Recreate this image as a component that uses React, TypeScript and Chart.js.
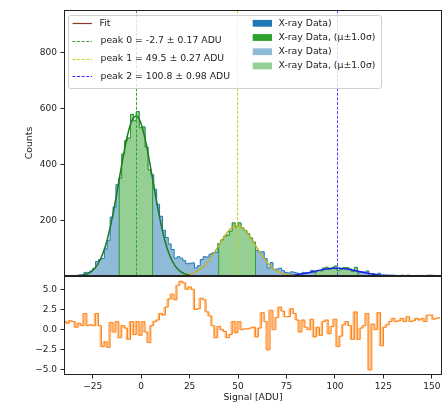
import React, { useEffect, useRef } from 'react';
import { Chart, registerables } from 'chart.js';

Chart.register(...registerables);

// ---------- data ----------
const BIN_START = -40;
const BIN_WIDTH = 1.5;

const counts = [
  1, 1, 2, 2, 2, 4, 5, 13, 11, 18,
  27, 52, 59, 63, 97, 128, 211, 247, 327, 351,
  437, 485, 494, 579, 556, 589, 531, 534, 462, 380,
  363, 311, 257, 214, 164, 138, 115, 95, 64, 69,
  64, 55, 44, 46, 47, 29, 37, 59, 69, 68,
  78, 83, 85, 116, 129, 142, 146, 160, 190, 175,
  190, 172, 163, 151, 136, 121, 92, 86, 87, 62,
  29, 48, 24, 25, 28, 19, 13, 11, 15, 13,
  10, 6, 13, 11, 12, 20, 13, 20, 18, 28,
  31, 24, 29, 35, 19, 23, 29, 30, 25, 16,
  31, 12, 15, 14, 18, 2, 8, 5, 10, 1,
  3, 3, 3, 3, 2, 2, 3, 1, 3, 1,
  1, 2, 2, 2, 1, 3, 3, 2, 2, 2,
];

const residuals = [
  1.0, 0.8, 1.1, 1.0, 0.3, 0.8, 0.5, 2.0, 0.5, 0.6,
  0.5, 2.0, 0.5, -2.1, -1.5, -2.2, 0.9, -0.3, 1.0, -1.0,
  0.5, 0.2, -1.2, 1.0, -0.6, 1.0, -0.7, 1.0, -0.3, -1.6,
  0.5, 1.0, 1.2, 2.0, 1.8, 2.8, 3.8, 4.4, 3.7, 5.5,
  6.0, 5.8, 5.0, 5.3, 5.0, 2.5, 2.6, 3.9, 3.7, 2.2,
  1.7, 0.5, -1.0, 0.4, 0.0, -0.2, -1.0, -0.6, 1.0, -0.4,
  1.0, 0.0, 0.1, 0.1, 0.2, 0.3, -0.9, 0.2, 2.1, 1.0,
  -2.5, 2.4, 0.0, 1.5, 2.8, 2.3, 1.6, 1.6, 2.6, 2.0,
  1.2, -0.3, 1.2, 0.3, 0.0, 1.3, -0.9, 0.3, -0.7, 1.0,
  1.2, -0.5, 0.4, 1.3, -2.1, -0.8, 0.6, 1.0, 0.5, -1.2,
  2.2, -1.2, 0.2, 0.5, 2.0, -5.0, 0.7, 0.0, 2.1, -2.0,
  0.3, 0.6, 1.0, 1.4, 1.0, 1.1, 1.4, 1.0, 1.6, 1.0,
  1.1, 1.4, 1.2, 1.4, 1.0, 1.8, 1.8, 1.3, 1.4, 1.5,
];

const peakMeans = [-2.7, 49.5, 100.8];
const peakSigmas = [8.6, 9.5, 11.0];
const peakLabels = [
  'peak 0 = -2.7 ± 0.17 ADU',
  'peak 1 = 49.5 ± 0.27 ADU',
  'peak 2 = 100.8 ± 0.98 ADU',
];

const FIT_STEP = 2.5;
const fit0Start = -30;
const fit0 = [3.7, 8.9, 19.9, 40.5, 75.8, 130, 206, 299, 400, 490, 553, 573, 545, 477, 384, 284, 193, 120, 69, 36, 17.6, 7.8, 3.2];
const fit1Start = 20;
const fit1 = [1.5, 3.2, 6.5, 12.3, 21.9, 36.3, 56.1, 81, 109, 137, 161, 176, 180, 171, 152, 126, 98, 70.6, 47.6, 29.9, 17.5, 9.6, 4.9, 2.3, 1.0];
const fit2Start = 70;
const fit2 = [0.55, 1.0, 1.8, 3.0, 4.7, 7.0, 10.0, 13.5, 17.3, 21.1, 24.4, 26.8, 27.9, 27.7, 26.0, 23.3, 19.7, 15.9, 12.2, 8.9, 6.1, 4.0, 2.5, 1.5, 0.8];

const countTicks = [200, 400, 600, 800];
const residualTicks = [-5, -2.5, 0, 2.5, 5];
const signalTicks = [-25, 0, 25, 50, 75, 100, 125, 150];

const lineLegendLabels = ['Fit', ...peakLabels];
const patchLegendLabels = ['X-ray Data)', 'X-ray Data, (μ±1.0σ)', 'X-ray Data)', 'X-ray Data, (μ±1.0σ)'];

// ---------- styles ----------
const FONT = '"DejaVu Sans", sans-serif';
const TEXT = '#222222';
const X_MIN = -39.8;
const X_MAX = 155.2;
const fitColors = ['#1c7c1c', '#c2b232', '#1f1fe6'];
const vlineColors = ['#2fa52f', '#d2cc22', '#4848ff'];
const legendLineColors = ['#8b3a2a', '#2fa52f', '#d8d020', '#3030ff'];
const patchColors = ['#1f77b4', '#2ca02c', 'rgba(31,119,180,0.5)', 'rgba(44,160,44,0.5)'];

const fmtMinus = (s: string) => s.replace('-', '\u2212');

function histPoints() {
  const pts = counts.map((c, i) => ({ x: BIN_START + i * BIN_WIDTH, y: c }));
  pts.push({ x: BIN_START + counts.length * BIN_WIDTH, y: counts[counts.length - 1] });
  return pts;
}

function regionPoints(lo: number, hi: number) {
  const idx = (x: number) => Math.min(counts.length - 1, Math.max(0, Math.floor((x - BIN_START) / BIN_WIDTH)));
  const pts: { x: number; y: number }[] = [];
  pts.push({ x: lo, y: 0 });
  pts.push({ x: lo, y: counts[idx(lo)] });
  for (let i = idx(lo) + 1; i <= idx(hi); i++) {
    pts.push({ x: BIN_START + i * BIN_WIDTH, y: counts[i] });
  }
  pts.push({ x: hi, y: counts[idx(hi)] });
  pts.push({ x: hi, y: 0 });
  return pts;
}

function fitPoints(start: number, vals: number[]) {
  return vals.map((v, i) => ({ x: start + i * FIT_STEP, y: v }));
}

const noPadV = (s: any) => { s.width = 64; s.paddingTop = 0; s.paddingBottom = 0; };

const framePlugin = {
  id: 'frame',
  afterDraw(chart: any) {
    const { ctx, chartArea } = chart;
    ctx.save();
    ctx.strokeStyle = '#222';
    ctx.lineWidth = 1;
    const l = Math.round(chartArea.left) + 0.5;
    const t = Math.round(chartArea.top) + 0.5;
    const r = Math.round(chartArea.right) - 0.5;
    const b = Math.round(chartArea.bottom) - 0.5;
    ctx.strokeRect(l, t, r - l, b - t);
    ctx.restore();
  },
};

const vlinePlugin = {
  id: 'vlines',
  afterDatasetsDraw(chart: any) {
    const { ctx, chartArea, scales } = chart;
    ctx.save();
    ctx.lineWidth = 1;
    ctx.setLineDash([3, 1.6]);
    peakMeans.forEach((m, i) => {
      const x = Math.round(scales.x.getPixelForValue(m)) + 0.5;
      ctx.strokeStyle = vlineColors[i];
      ctx.beginPath();
      ctx.moveTo(x, chartArea.top);
      ctx.lineTo(x, chartArea.bottom);
      ctx.stroke();
    });
    ctx.restore();
  },
};

const legendPlugin = {
  id: 'customLegend',
  afterDraw(chart: any) {
    const { ctx } = chart;
    ctx.save();
    const bx = 68.5, by = 15.5, bw = 313, bh = 73, rad = 2.5;
    ctx.beginPath();
    ctx.moveTo(bx + rad, by);
    ctx.lineTo(bx + bw - rad, by);
    ctx.quadraticCurveTo(bx + bw, by, bx + bw, by + rad);
    ctx.lineTo(bx + bw, by + bh - rad);
    ctx.quadraticCurveTo(bx + bw, by + bh, bx + bw - rad, by + bh);
    ctx.lineTo(bx + rad, by + bh);
    ctx.quadraticCurveTo(bx, by + bh, bx, by + bh - rad);
    ctx.lineTo(bx, by + rad);
    ctx.quadraticCurveTo(bx, by, bx + rad, by);
    ctx.closePath();
    ctx.fillStyle = 'rgba(255,255,255,0.8)';
    ctx.fill();
    ctx.strokeStyle = '#d0d0d0';
    ctx.lineWidth = 1;
    ctx.stroke();

    ctx.font = `9.3px ${FONT}`;
    ctx.textBaseline = 'middle';
    ctx.textAlign = 'left';
    lineLegendLabels.forEach((label, i) => {
      const y = 23.3 + i * 17.6;
      ctx.strokeStyle = legendLineColors[i];
      ctx.lineWidth = 1.2;
      ctx.setLineDash(i === 0 ? [] : [3, 1.6]);
      ctx.beginPath();
      ctx.moveTo(72.5, Math.round(y) + 0.5);
      ctx.lineTo(92, Math.round(y) + 0.5);
      ctx.stroke();
      ctx.fillStyle = TEXT;
      ctx.fillText(label, i === 0 ? 99.5 : 100.5, y);
    });
    ctx.setLineDash([]);
    patchLegendLabels.forEach((label, i) => {
      const y = 23.3 + i * 14.2;
      ctx.fillStyle = patchColors[i];
      ctx.fillRect(252.7, y - 3.4, 19.3, 6.8);
      ctx.fillStyle = TEXT;
      ctx.fillText(label, 278.5, y);
    });
    ctx.restore();
  },
};

export default function App() {
  const topRef = useRef<HTMLCanvasElement>(null);
  const botRef = useRef<HTMLCanvasElement>(null);

  useEffect(() => {
    const tickFont = { family: FONT, size: 9 };
    const titleFont = { family: FONT, size: 9.3 };

    const regionDatasets = peakMeans.map((m, k) => ({
      label: 'X-ray Data, (μ±1.0σ)',
      data: regionPoints(m - peakSigmas[k], m + peakSigmas[k]),
      stepped: true,
      borderColor: '#2ca02c',
      borderWidth: 1,
      backgroundColor: '#95cf93',
      fill: 'origin',
      pointRadius: 0,
      order: 2,
    }));

    const fitDatasets = [
      fitPoints(fit0Start, fit0),
      fitPoints(fit1Start, fit1),
      fitPoints(fit2Start, fit2),
    ].map((d, k) => ({
      label: 'Fit ' + k,
      data: d,
      borderColor: fitColors[k],
      borderWidth: 1.5,
      cubicInterpolationMode: 'monotone' as const,
      fill: false,
      pointRadius: 0,
      order: 1,
    }));

    const top = new Chart(topRef.current!, {
      type: 'line',
      data: {
        datasets: [
          {
            label: 'X-ray Data)',
            data: histPoints(),
            stepped: true,
            borderColor: '#1f77b4',
            borderWidth: 1,
            backgroundColor: 'rgba(31,119,180,0.5)',
            fill: 'origin',
            pointRadius: 0,
            order: 3,
          },
          ...regionDatasets,
          ...fitDatasets,
        ] as any,
      },
      options: {
        animation: false,
        responsive: false,
        events: [],
        layout: { padding: { left: 0, right: 1, top: 10, bottom: 1 } },
        plugins: { legend: { display: false }, tooltip: { enabled: false } },
        scales: {
          x: { type: 'linear', min: X_MIN, max: X_MAX, display: false },
          y: {
            type: 'linear',
            min: 0,
            max: 953,
            afterFit: noPadV,
            afterBuildTicks: (s: any) => { s.ticks = countTicks.map((v) => ({ value: v })); },
            ticks: { font: tickFont, color: TEXT, padding: 3.5, callback: (v: any) => String(v) },
            grid: { display: true, drawOnChartArea: false, drawTicks: true, tickLength: 3.5, color: '#222' },
            border: { display: false },
            title: { display: true, text: 'Counts', font: titleFont, color: TEXT, padding: { top: 24.4, bottom: 0 } },
          },
        },
      } as any,
      plugins: [vlinePlugin, framePlugin, legendPlugin],
    });

    const resPts = residuals.map((r, i) => ({ x: BIN_START + (i + 0.5) * BIN_WIDTH, y: r }));

    const bot = new Chart(botRef.current!, {
      type: 'line',
      data: {
        datasets: [
          {
            label: 'residual',
            data: resPts,
            stepped: 'middle',
            borderColor: '#ff7f0e',
            borderWidth: 1,
            fill: false,
            pointRadius: 0,
          },
          {
            label: 'residual2',
            data: resPts,
            stepped: 'after',
            borderColor: 'rgba(255,127,14,0.45)',
            borderWidth: 1,
            backgroundColor: 'rgba(255,127,14,0.35)',
            fill: '-1',
            pointRadius: 0,
          },
        ] as any,
      },
      options: {
        animation: false,
        responsive: false,
        events: [],
        layout: { padding: { left: 0, right: 1, top: 0, bottom: 0 } },
        plugins: { legend: { display: false }, tooltip: { enabled: false } },
        scales: {
          x: {
            type: 'linear',
            min: X_MIN,
            max: X_MAX,
            afterFit: (s: any) => { s.height = 31; s.paddingLeft = 0; s.paddingRight = 0; },
            afterBuildTicks: (s: any) => { s.ticks = signalTicks.map((v) => ({ value: v })); },
            ticks: { font: tickFont, color: TEXT, padding: 3, maxRotation: 0, callback: (v: any) => fmtMinus(String(v)) },
            grid: { display: true, drawOnChartArea: false, drawTicks: true, tickLength: 3.5, color: '#222' },
            border: { display: false },
            title: { display: true, text: 'Signal [ADU]', font: titleFont, color: TEXT, padding: { top: 0, bottom: 2.4 } },
          },
          y: {
            type: 'linear',
            min: -5.62,
            max: 6.65,
            afterFit: noPadV,
            afterBuildTicks: (s: any) => { s.ticks = residualTicks.map((v) => ({ value: v })); },
            ticks: { font: tickFont, color: TEXT, padding: 3.5, callback: (v: any) => fmtMinus(Number(v).toFixed(1)) },
            grid: { display: true, drawOnChartArea: false, drawTicks: true, tickLength: 3.5, color: '#222' },
            border: { display: false },
          },
        },
      } as any,
      plugins: [framePlugin],
    });

    return () => {
      top.destroy();
      bot.destroy();
    };
  }, []);

  return (
    <div style={{ position: 'absolute', left: 0, top: 0, width: 443, height: 406, background: '#fff' }}>
      <canvas ref={topRef} width={443} height={277} style={{ position: 'absolute', left: 0, top: 0 }} />
      <canvas ref={botRef} width={443} height={130} style={{ position: 'absolute', left: 0, top: 276 }} />
    </div>
  );
}
